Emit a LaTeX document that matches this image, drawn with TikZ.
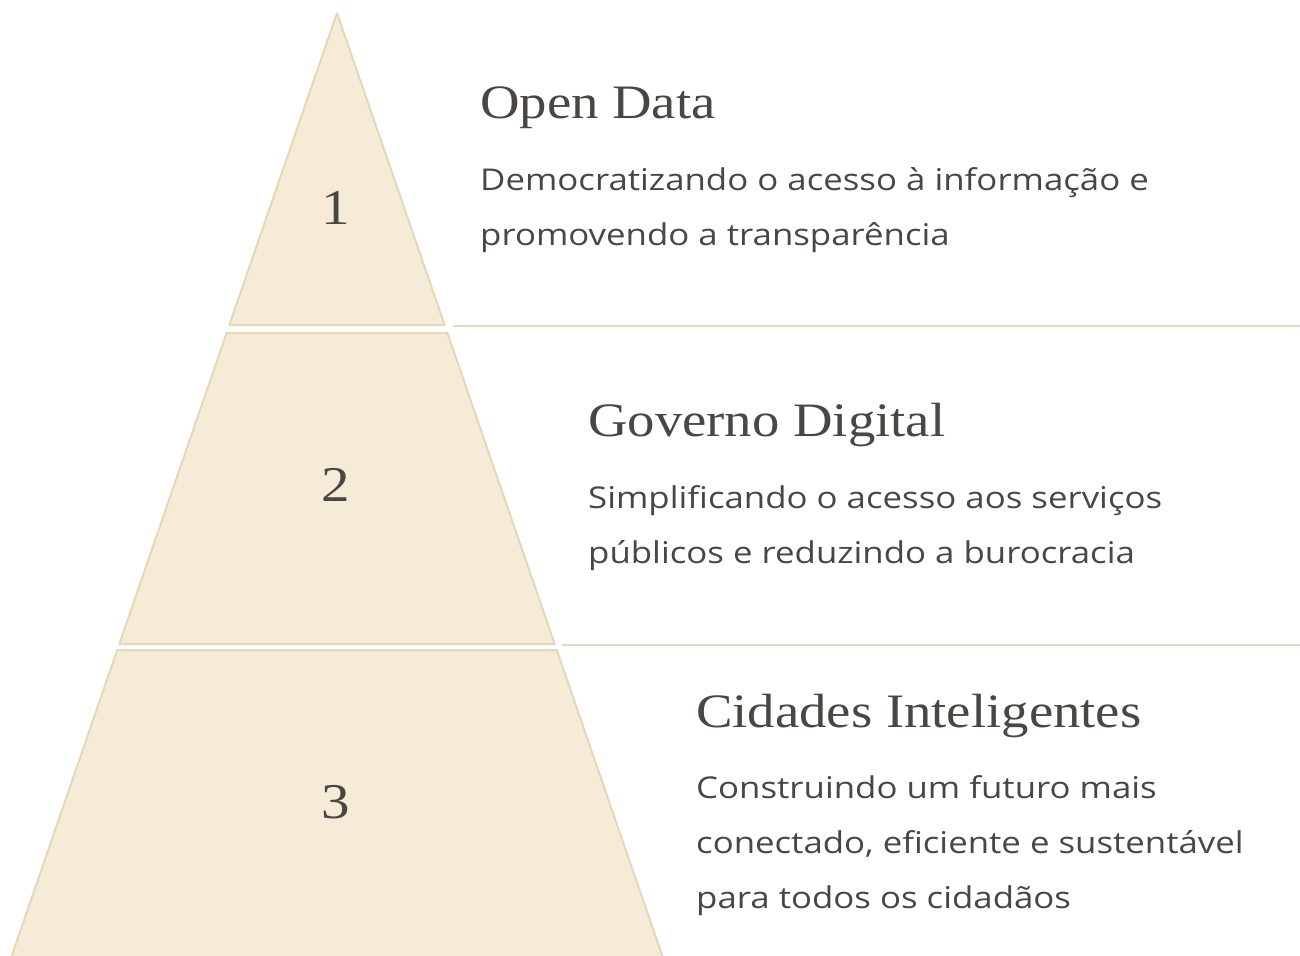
\documentclass[tikz,border=0pt]{standalone}
\usepackage{fontspec}
\setmainfont{Liberation Serif}
\newfontfamily\titlefont[FakeStretch=1.14]{Liberation Serif}
\newfontfamily\bodyfont[Ligatures=NoCommon,FakeStretch=1.16]{Open Sans}
\definecolor{tierfill}{HTML}{F6EBD6}
\definecolor{tierline}{HTML}{E4D8BB}
\definecolor{ink}{HTML}{4A4642}
\tikzset{
  tier/.style={fill=tierfill, draw=tierline, line width=2pt, line join=round},
  rule/.style={draw=tierline, line width=1.5pt},
  num/.style={font=\titlefont\fontsize{50}{50}\selectfont, text=ink, inner sep=0pt},
  ttl/.style={font=\titlefont\fontsize{48}{48}\selectfont, text=ink, anchor=base west, inner sep=0pt},
  body/.style={font=\bodyfont\fontsize{30}{55}\selectfont, text=ink, anchor=base west, inner sep=0pt, align=left},
}
\begin{document}
\begin{tikzpicture}[x=1pt,y=-1pt]
\useasboundingbox (0,0) rectangle (1300,955);
\clip (0,0) rectangle (1300,955);
% tiers
\def\k{0.345}
\def\c{337}
\path[tier] (\c,13) -- ({\c+\k*312},325) -- ({\c-\k*312},325) -- cycle;
\path[tier] ({\c-\k*320},333) -- ({\c+\k*320},333) -- ({\c+\k*631},644) -- ({\c-\k*631},644) -- cycle;
\path[tier] ({\c-\k*637},650) -- ({\c+\k*637},650) -- ({\c+\k*947},960) -- ({\c-\k*947},960) -- cycle;
% rules
\coordinate (r1a) at (453,326); \coordinate (r1b) at (1300,326);
\coordinate (r2a) at (562,645); \coordinate (r2b) at (1300,645);
\draw[rule] (r1a) -- (r1b);
\draw[rule] (r2a) -- (r2b);
% numbers
\node[num] (n1) at (336,208) {1};
\node[num] (n2) at (336,485) {2};
\node[num] (n3) at (336,802) {3};
% titles
\node[ttl] (t1) at (480,118) {Open Data};
\node[ttl] (t2) at (588,436) {Governo Digital};
\node[ttl] (t3) at (696,727) {Cidades Inteligentes};
% bodies
\node[body] (b1a) at (480,190) {Democratizando o acesso à informação e};
\node[body] (b1b) at (480,245) {promovendo a transparência};
\node[body] (b2a) at (588,508) {Simplificando o acesso aos serviços};
\node[body] (b2b) at (588,563) {públicos e reduzindo a burocracia};
\node[body] (b3a) at (696,798) {Construindo um futuro mais};
\node[body] (b3b) at (696,853) {conectado, eficiente e sustentável};
\node[body] (b3c) at (696,908) {para todos os cidadãos};
\end{tikzpicture}
\end{document}
